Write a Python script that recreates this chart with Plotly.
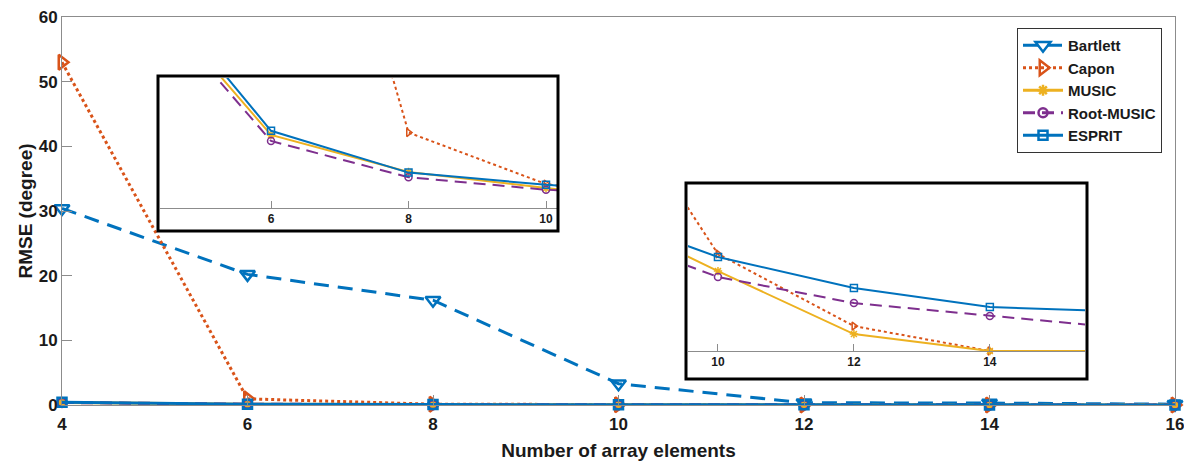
import plotly.graph_objects as go

# ---- data ----
elements = [4, 6, 8, 10, 12, 14, 16]
bartlett = [30.4, 20.2, 16.2, 3.3, 0.35, 0.30, 0.12]
capon = [53.0, 0.95, 0.130, 0.0413, 0.0106, 0.0, 0.0]
music = [0.40, 0.126, 0.062, 0.034, 0.0072, 0.0, 0.0]
root_music = [0.39, 0.1155, 0.053, 0.0315, 0.0204, 0.0149, 0.0097]
esprit = [0.42, 0.133, 0.061, 0.040, 0.0268, 0.0187, 0.0168]

x_ticks = [4, 6, 8, 10, 12, 14, 16]
y_ticks = [0, 10, 20, 30, 40, 50, 60]
inset1_ticks = [6, 8, 10]
inset2_ticks = [10, 12, 14]

# ---- styles ----
BLUE = "#0072BD"
ORANGE = "#D95319"
YELLOW = "#EDB120"
PURPLE = "#7E2F8E"
FONT = "Liberation Sans"
AXC = "#8c8c8c"

series = [
    dict(name="Bartlett", y=bartlett, color=BLUE, dash="15px,9px", symbol="triangle-down-open", size=13, inset=False),
    dict(name="Capon", y=capon, color=ORANGE, dash="dot", symbol="triangle-right-open", size=13, inset=True),
    dict(name="MUSIC", y=music, color=YELLOW, dash="solid", symbol="asterisk-open", size=9, inset=True),
    dict(name="Root-MUSIC", y=root_music, color=PURPLE, dash="12px,7px", symbol="circle-open", size=9, inset=True),
    dict(name="ESPRIT", y=esprit, color=BLUE, dash="solid", symbol="square-open", size=9, inset=True),
]

fig = go.Figure()

# main traces
for s in series:
    fig.add_trace(go.Scatter(
        x=elements, y=s["y"], name=s["name"], mode="lines+markers",
        line=dict(color=s["color"], width=3, dash=s["dash"]),
        marker=dict(symbol=s["symbol"], size=s["size"], color=s["color"], line=dict(width=2.5, color=s["color"])),
        cliponaxis=False, xaxis="x", yaxis="y", showlegend=True,
    ))

insets = [
    dict(xa="x2", ya="y2", xr=[4.385, 10.16], yr=[0, 0.224]),
    dict(xa="x3", ya="y3", xr=[9.559, 15.40], yr=[0, 0.0702]),
]

for ins in insets:
    for s in series:
        if not s["inset"]:
            continue
        fig.add_trace(go.Scatter(
            x=elements, y=s["y"], mode="lines",
            line=dict(color=s["color"], width=2, dash=s["dash"]),
            xaxis=ins["xa"], yaxis=ins["ya"], showlegend=False, hoverinfo="skip",
        ))
        inside = [(xv, yv) for xv, yv in zip(elements, s["y"])
                  if ins["xr"][0] <= xv <= ins["xr"][1] and ins["yr"][0] <= yv <= ins["yr"][1]]
        fig.add_trace(go.Scatter(
            x=[p[0] for p in inside], y=[p[1] for p in inside], mode="markers",
            marker=dict(symbol=s["symbol"], size=7, color=s["color"], line=dict(width=1.5, color=s["color"])),
            cliponaxis=False, xaxis=ins["xa"], yaxis=ins["ya"], showlegend=False,
        ))

W = 1184 - 62 - 9
H = 461 - 17 - 56

def px2x(p):
    return (p - 62) / W

def px2y(p):
    return (405 - p) / H

tickfont_main = dict(family=FONT, size=17, color="#1a1a1a", weight="bold")
tickfont_inset = dict(family=FONT, size=12, color="#1a1a1a", weight="bold")

fig.update_layout(
    width=1184, height=461,
    margin=dict(l=62, r=9, t=17, b=56),
    paper_bgcolor="white", plot_bgcolor="white",
    font=dict(family=FONT, color="#1a1a1a"),
    xaxis=dict(
        range=[4, 16], tickvals=x_ticks, ticks="inside", ticklen=10, tickcolor=AXC,
        showline=True, linecolor=AXC, linewidth=1, mirror=True, showgrid=False, zeroline=False,
        tickfont=tickfont_main, ticklabelstandoff=4, automargin=False, ticklabeloverflow="allow",
        title=dict(text="Number of array elements", font=dict(family=FONT, size=19, weight="bold"), standoff=12),
    ),
    yaxis=dict(
        range=[0, 60], tickvals=y_ticks, ticks="inside", ticklen=10, tickcolor=AXC,
        showline=True, linecolor=AXC, linewidth=1, mirror=True, showgrid=False, zeroline=False,
        tickfont=tickfont_main, automargin=False, ticklabeloverflow="allow",
        title=dict(text="RMSE (degree)", font=dict(family=FONT, size=19, weight="bold"), standoff=1),
    ),
    xaxis2=dict(
        domain=[px2x(160), px2x(557)], anchor="y2", range=insets[0]["xr"], tickvals=inset1_ticks,
        ticks="inside", ticklen=7, tickcolor=AXC, showline=True, linecolor=AXC, showgrid=False, zeroline=False,
        tickfont=tickfont_inset, automargin=False,
    ),
    yaxis2=dict(
        domain=[px2y(208), px2y(78)], anchor="x2", range=insets[0]["yr"], visible=False,
    ),
    xaxis3=dict(
        domain=[px2x(688), px2x(1085)], anchor="y3", range=insets[1]["xr"], tickvals=inset2_ticks,
        ticks="inside", ticklen=7, tickcolor=AXC, showline=True, linecolor=AXC, showgrid=False, zeroline=False,
        tickfont=tickfont_inset, automargin=False,
    ),
    yaxis3=dict(
        domain=[px2y(351), px2y(186)], anchor="x3", range=insets[1]["yr"], visible=False,
    ),
    legend=dict(
        x=px2x(1162), y=px2y(28), xanchor="right", yanchor="top",
        bgcolor="white", bordercolor="#333333", borderwidth=1,
        font=dict(family=FONT, size=15, color="#1a1a1a", weight="bold"),
        tracegroupgap=0, itemwidth=40,
    ),
    shapes=[
        dict(type="rect", xref="paper", yref="paper", x0=px2x(158), x1=px2x(558), y0=px2y(231), y1=px2y(76),
             line=dict(color="black", width=3), fillcolor="rgba(0,0,0,0)", layer="above"),
        dict(type="rect", xref="paper", yref="paper", x0=px2x(686), x1=px2x(1087), y0=px2y(379), y1=px2y(183),
             line=dict(color="black", width=3), fillcolor="rgba(0,0,0,0)", layer="above"),
    ],
)

fig.write_html(
    "out.html",
    config={"displayModeBar": False},
    post_script="document.body.style.margin='0';document.body.style.padding='0';document.body.style.overflow='hidden';",
)
